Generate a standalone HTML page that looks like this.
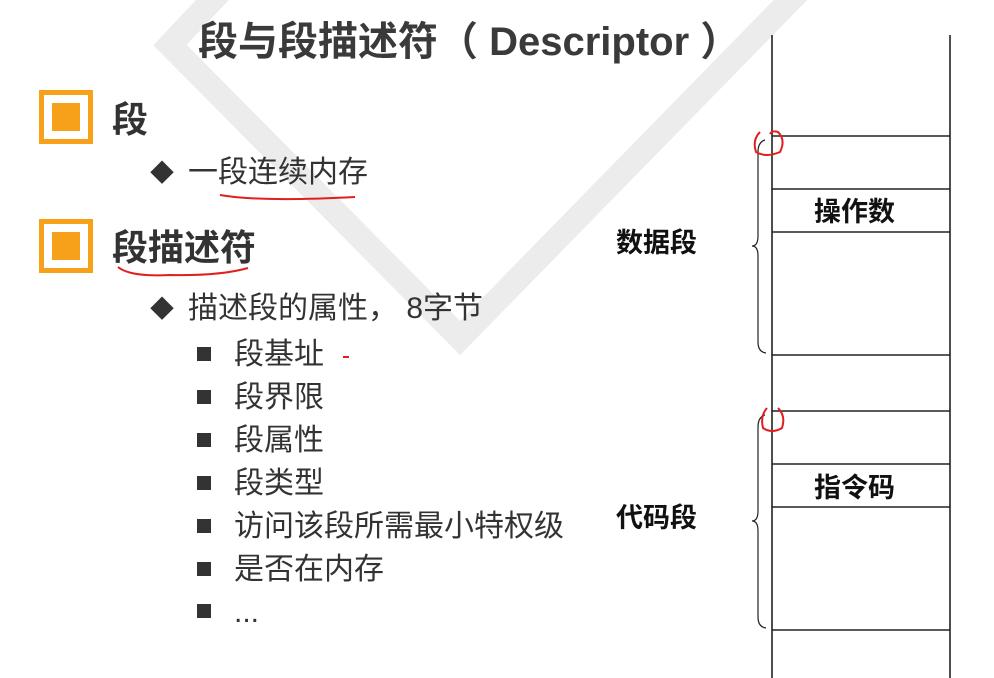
<!DOCTYPE html>
<html><head><meta charset="utf-8"><style>
body{margin:0;width:994px;height:678px;background:#fff;position:relative;overflow:hidden;font-family:"Liberation Sans","Noto Sans CJK SC",sans-serif;color:#333}
.t{position:absolute;white-space:nowrap;line-height:1}
.box{position:absolute;width:54px;height:54px;border:5px solid #f7a11a;box-sizing:border-box;background:#fff}
.box i{position:absolute;left:8px;top:8px;width:28px;height:28px;background:#f7a11a}
.sq{position:absolute;width:14px;height:14px;background:#333}
.s{font-size:30px}
</style></head><body>
<svg width="994" height="678" style="position:absolute;left:0;top:0">
<polyline points="250,-40 170,45 460,338 810,-20" fill="none" stroke="#ececec" stroke-width="24"/>
<g stroke="#222" stroke-width="1.6">
<line x1="772" y1="35" x2="772" y2="678"/>
<line x1="950" y1="35" x2="950" y2="678"/>
<line x1="772" y1="136" x2="950" y2="136"/>
<line x1="772" y1="189" x2="950" y2="189"/>
<line x1="772" y1="232" x2="950" y2="232"/>
<line x1="772" y1="355" x2="950" y2="355"/>
<line x1="772" y1="411" x2="950" y2="411"/>
<line x1="772" y1="464" x2="950" y2="464"/>
<line x1="772" y1="507" x2="950" y2="507"/>
<line x1="772" y1="630" x2="950" y2="630"/>
</g>
<g fill="none" stroke="#222" stroke-width="1.2">
<path d="M765,140 Q758,142 758,152 L758,236 Q758,246 752,246 Q758,246 758,256 L758,342 Q758,352 766,353"/>
<path d="M765,415 Q758,417 758,427 L758,511 Q758,521 752,521 Q758,521 758,531 L758,617 Q758,627 766,628"/>
</g>
<g fill="none" stroke="#e02020" stroke-width="2">
<path d="M760,132 Q752,140 756,152 Q766,158 780,152 Q786,140 778,132 Q772,130 770,134"/>
<path d="M767,408 Q760,416 763,428 Q772,434 782,428 Q786,416 778,408"/>
<path d="M220,195 Q260,202 355,197"/>
<path d="M118,267 Q130,277 170,275 Q220,276 248,268"/>
<path d="M343,357 L349,357"/>
</g>
</svg>
<div class="t" style="left:198px;top:22px;font-size:40px;font-weight:bold;color:#3a3a3a">段与段描述符（ Descriptor ）</div>
<div class="box" style="left:39px;top:90px"><i></i></div>
<div class="t" style="left:112px;top:102px;font-size:36px;font-weight:bold">段</div>
<div class="t" style="left:150px;top:162px;font-size:24px">◆</div>
<div class="t" style="left:188px;top:158px;font-size:30px">一段连续内存</div>
<div class="box" style="left:39px;top:219px"><i></i></div>
<div class="t" style="left:112px;top:230px;font-size:36px;font-weight:bold">段描述符</div>
<div class="t" style="left:150px;top:298px;font-size:24px">◆</div>
<div class="t" style="left:188px;top:294px;font-size:30px">描述段的属性， 8字节</div>
<div class="sq" style="left:197px;top:347px"></div><div class="t s" style="left:234px;top:340px">段基址</div>
<div class="sq" style="left:197px;top:390px"></div><div class="t s" style="left:234px;top:383px">段界限</div>
<div class="sq" style="left:197px;top:433px"></div><div class="t s" style="left:234px;top:426px">段属性</div>
<div class="sq" style="left:197px;top:476px"></div><div class="t s" style="left:234px;top:469px">段类型</div>
<div class="sq" style="left:197px;top:519px"></div><div class="t s" style="left:234px;top:512px">访问该段所需最小特权级</div>
<div class="sq" style="left:197px;top:562px"></div><div class="t s" style="left:234px;top:555px">是否在内存</div>
<div class="sq" style="left:197px;top:604px"></div><div class="t s" style="left:234px;top:598px">...</div>
<div class="t" style="left:616px;top:230px;font-size:27px;font-weight:bold;color:#111">数据段</div>
<div class="t" style="left:814px;top:199px;font-size:27px;font-weight:bold;color:#111">操作数</div>
<div class="t" style="left:616px;top:505px;font-size:27px;font-weight:bold;color:#111">代码段</div>
<div class="t" style="left:814px;top:475px;font-size:27px;font-weight:bold;color:#111">指令码</div>
</body></html>
